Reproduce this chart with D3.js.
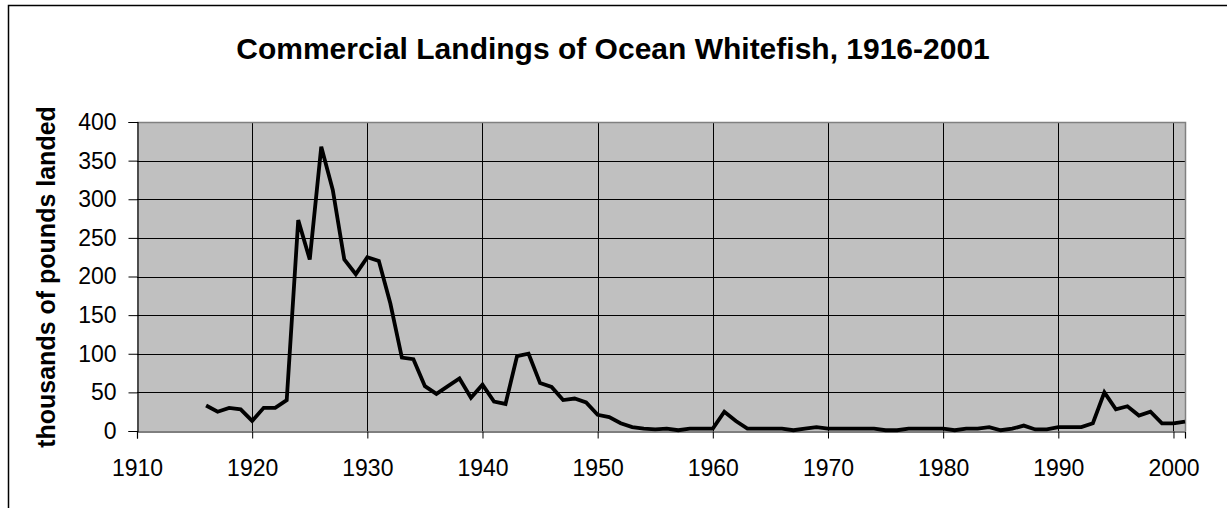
<!DOCTYPE html>
<html>
<head>
<meta charset="utf-8">
<script src="https://cdn.jsdelivr.net/npm/d3@7"></script>
<style>
  body { margin: 0; background: #fff; }
  svg { display: block; font-family: Arial, "Liberation Sans", sans-serif; }
</style>
</head>
<body>
<svg></svg>
<script>
// Chart data
const years = d3.range(1916, 2002);
const landings = [
  33, 25, 30, 28, 13, 30, 30, 40, 273, 222,
  368, 312, 222, 203, 225, 220, 165, 95, 93, 58,
  48, 58, 68, 43, 60, 38, 35, 97, 100, 62,
  57, 40, 42, 37, 21, 18, 10, 5, 3, 2,
  3, 1, 3, 3, 3, 25, 13, 3, 3, 3,
  3, 1, 3, 5, 3, 3, 3, 3, 3, 1,
  1, 3, 3, 3, 3, 1, 3, 3, 5, 1,
  3, 7, 2, 2, 5, 5, 5, 10, 50, 28,
  32, 20, 25, 10, 10, 12
];
const xTicks = [1910, 1920, 1930, 1940, 1950, 1960, 1970, 1980, 1990, 2000];
const yTicks = [0, 50, 100, 150, 200, 250, 300, 350, 400];
const chartTitle = "Commercial Landings of Ocean Whitefish, 1916-2001";
const yTitle = "thousands of pounds landed";

const w = 1227;
const h = 508;
const plot = { left: 137, top: 122, right: 1185, bottom: 431 };

const svg = d3.select("svg")
  .attr("width", w)
  .attr("height", h);

// outer chart border (right and bottom fall outside the window)
svg.append("rect")
  .attr("x", 8.5)
  .attr("y", 5.5)
  .attr("width", w + 10)
  .attr("height", h + 10)
  .attr("fill", "#fff")
  .attr("stroke", "#000")
  .attr("stroke-width", 1.5);

const x = d3.scaleLinear().domain([1910, 2001]).range([plot.left, plot.right]);
const y = d3.scaleLinear().domain([0, 400]).range([plot.bottom, plot.top]);

svg.append("rect")
  .attr("x", plot.left)
  .attr("y", plot.top)
  .attr("width", plot.right - plot.left)
  .attr("height", plot.bottom - plot.top)
  .attr("fill", "#c0c0c0");

// gridlines
svg.append("g")
  .selectAll("line")
  .data(yTicks.filter((d) => d > 0))
  .join("line")
  .attr("x1", plot.left)
  .attr("x2", plot.right)
  .attr("y1", (d) => Math.round(y(d)) + 0.5)
  .attr("y2", (d) => Math.round(y(d)) + 0.5)
  .attr("stroke", "#000");

svg.append("g")
  .selectAll("line")
  .data(xTicks.filter((d) => d > 1910))
  .join("line")
  .attr("x1", (d) => Math.round(x(d)) + 0.5)
  .attr("x2", (d) => Math.round(x(d)) + 0.5)
  .attr("y1", plot.top)
  .attr("y2", plot.bottom)
  .attr("stroke", "#000");

// plot border (top and right in gray)
svg.append("path")
  .attr("d", `M${plot.left},${plot.top + 0.5}H${plot.right + 0.5}V${plot.bottom}`)
  .attr("fill", "none")
  .attr("stroke", "#808080")
  .attr("stroke-width", 1.5);

// axes
const xAxis = svg.append("g")
  .attr("transform", `translate(0,${plot.bottom + 0.5})`)
  .call(d3.axisBottom(x).tickValues(xTicks).tickFormat(d3.format("d")).tickSize(7));

const yAxis = svg.append("g")
  .attr("transform", `translate(${plot.left + 0.5},0)`)
  .call(d3.axisLeft(y).tickValues(yTicks).tickSize(9).tickPadding(12));

[xAxis, yAxis].forEach((g) => {
  g.select(".domain").attr("stroke", "#000").attr("stroke-width", 1.2);
  g.selectAll(".tick line").attr("stroke", "#000");
  g.selectAll(".tick text")
    .attr("font-family", null)
    .attr("font-size", null)
    .style("font-size", "23px")
    .attr("fill", "#000");
});
xAxis.selectAll(".tick text").attr("y", 44).attr("dy", 0);

// the series
const line = d3.line()
  .x((d, i) => x(years[i]))
  .y((d) => y(d));

svg.append("path")
  .datum(landings)
  .attr("fill", "none")
  .attr("stroke", "#000")
  .attr("stroke-width", 3.8)
  .attr("stroke-linejoin", "miter")
  .attr("d", line);

// titles
svg.append("text")
  .attr("x", 613)
  .attr("y", 59)
  .attr("text-anchor", "middle")
  .attr("font-weight", "bold")
  .attr("font-size", 30)
  .text(chartTitle);

svg.append("text")
  .attr("transform", `translate(55,277) rotate(-90)`)
  .attr("text-anchor", "middle")
  .attr("font-weight", "bold")
  .attr("font-size", 25)
  .text(yTitle);
</script>
</body>
</html>
